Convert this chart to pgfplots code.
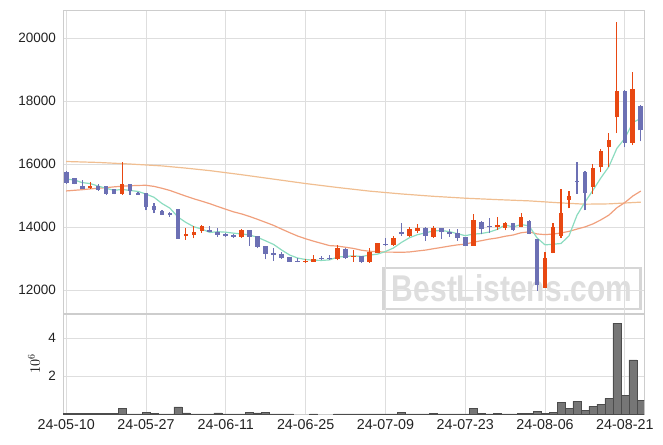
\documentclass[border=0pt]{standalone}
\usepackage{fontspec}
\setmainfont{Liberation Sans}
\usepackage{pgfplots}
\pgfplotsset{compat=1.18}
\usepackage{pgfplotstable}

\definecolor{cup}{RGB}{232,72,18}
\definecolor{cdn}{RGB}{108,112,180}
\definecolor{mafive}{RGB}{140,220,192}
\definecolor{matwenty}{RGB}{240,160,125}
\definecolor{malong}{RGB}{240,190,145}
\definecolor{gridc}{RGB}{222,222,222}
\definecolor{axc}{RGB}{205,205,205}
\definecolor{volc}{RGB}{118,118,118}
\definecolor{wmt}{RGB}{222,222,222}
\definecolor{wmb}{RGB}{214,214,214}
\definecolor{tk}{RGB}{34,34,34}

\pgfplotstableread{
i o h l c
3 15250 15450 15210 15320
7 15070 16090 15040 15380
15 13720 13970 13600 13785
16 13750 14030 13650 13860
17 13880 14070 13830 14040
22 13700 13940 13660 13910
30 12900 13010 12880 12935
31 12915 13130 12900 13010
34 13000 13440 12950 13340
36 13060 13285 12900 13105
38 12900 13330 12870 13210
39 13180 13510 13170 13500
41 13435 13720 13400 13660
43 13720 14000 13700 13950
44 13880 14100 13820 13990
46 13700 14040 13660 13980
51 13415 14410 13400 14220
54 14010 14330 13920 14070
55 13985 14170 13900 14125
57 14010 14450 14000 14330
60 12075 13220 12070 13020
61 13190 14150 13170 14010
62 13730 15210 13660 14450
63 14870 15150 14600 15000
66 15290 16005 15050 15890
67 15900 16500 15750 16430
68 16540 16990 15930 16780
69 17490 20510 16990 18340
71 16690 18930 16610 18400
}\upt

\pgfplotstableread{
i o h l c
0 15760 15790 15390 15420
1 15560 15570 15360 15390
2 15310 15500 15220 15230
4 15300 15390 15155 15190
5 15300 15310 15020 15070
6 15210 15220 15050 15060
8 15370 15380 15020 15150
9 15100 15110 15030 15040
10 15090 15100 14540 14650
11 14680 14780 14440 14550
12 14520 14560 14390 14400
13 14440 14480 14330 14400
14 14580 14590 13630 13640
18 13910 14030 13850 13860
19 13860 13990 13700 13760
20 13790 13830 13690 13710
21 13760 13790 13660 13700
23 13900 13910 13400 13700
24 13720 13730 13330 13380
25 13400 13410 12980 13160
26 13180 13340 12940 13125
27 13160 13230 13000 13030
28 13050 13060 12900 12910
29 12935 13030 12890 12900
32 13035 13100 12960 13000
33 13035 13120 12960 13000
35 13300 13350 13010 13030
37 13080 13090 12880 12900
40 13475 13660 13420 13440
42 13850 14125 13740 13785
45 13980 14000 13580 13730
47 13980 13990 13635 13850
48 13850 13940 13690 13775
49 13820 13940 13580 13660
50 13680 13690 13400 13415
52 14170 14200 13780 13945
53 14050 14300 13820 14010
56 14125 14140 13890 13910
58 14210 14240 13780 13795
59 13615 13630 11990 12160
64 15485 16080 15070 15435
65 15770 15790 14540 15100
70 18340 18360 16540 16690
72 17860 17870 16730 17080
}\dnt

\pgfplotstableread{
i v
0 0.03
1 0.03
2 0.03
3 0.03
4 0.03
5 0.03
6 0.03
7 0.32
8 0.02
9 0.02
10 0.12
11 0.05
12 0.02
13 0.02
14 0.39
15 0.07
16 0.02
17 0.02
18 0.02
19 0.07
20 0.02
21 0.02
22 0.02
23 0.12
24 0.07
25 0.12
26 0.02
27 0.02
28 0.02
31 0.02
34 0.02
35 0.02
36 0.02
37 0.02
38 0.02
39 0.02
40 0.02
41 0.02
42 0.12
43 0.02
44 0.02
45 0.02
46 0.05
47 0.02
48 0.02
49 0.02
50 0.02
51 0.32
52 0.05
53 0.02
54 0.05
55 0.02
56 0.02
57 0.05
58 0.05
59 0.16
60 0.05
61 0.12
62 0.63
63 0.32
64 0.68
65 0.21
66 0.42
67 0.53
68 0.84
69 4.79
70 1.00
71 2.86
72 0.75
}\volt

\pgfplotsset{
  candle/.style 2 args={only marks, mark=*, mark size=0pt,
    mark options={draw opacity=0, fill opacity=0},
    error bars/.cd, y dir=plus, y explicit, error mark=none,
    error bar style={draw=#1, line width=#2}},
}

\begin{document}
\begin{tikzpicture}
\useasboundingbox (0pt,0pt) rectangle (663pt,-444pt);
\node[draw=wmb, line width=2.6pt, inner sep=0pt,
      minimum width=257pt, minimum height=41pt] at (512pt,-288.5pt)
      {\textcolor{wmt}{\resizebox{240pt}{27pt}{\bfseries BestListens.com}}};

\begin{axis}[
  at={(63pt,-313pt)}, anchor=south west, scale only axis,
  width=581pt, height=303pt,
  xmin=-0.4, xmax=72.4, ymin=11280, ymax=20900,
  xtick={0,10,...,70}, xticklabels={},
  ytick={12000,14000,16000,18000,20000},
  yticklabels={12000,14000,16000,18000,20000},
  scaled y ticks=false, scaled x ticks=false,
  grid=major, major grid style={gridc, line width=0.8pt},
  axis line style={axc, line width=0.8pt},
  major tick length=0pt, tick style={draw=none},
  yticklabel style={font=\fontsize{13.5}{16}\selectfont, text=tk, anchor=east, xshift=-3.5pt},
]
\addplot[malong, line width=1.2pt] coordinates {
(0,16090)(4,16060)(8,16010)(12,15950)(15,15880)(18,15800)(22,15670)(26,15530)(30,15390)(34,15265)(38,15150)(42,15060)(46,14985)(50,14925)(54,14880)(58,14840)(62,14775)(65,14735)(68,14745)(72,14800)};
\addplot[matwenty, line width=1.2pt] coordinates {
(0,15155)(1,15175)(2,15195)(3,15220)(4,15240)(5,15260)(6,15285)(7,15305)(8,15320)(9,15330)(10,15335)(11,15300)(12,15240)(13,15170)(14,15080)(15,14990)(16,14905)(17,14830)(18,14750)(19,14660)(20,14574)(21,14490)(22,14424)(23,14343)(24,14252)(25,14157)(26,14060)(27,13943)(28,13831)(29,13724)(30,13637)(31,13560)(32,13490)(33,13420)(34,13405)(35,13368)(36,13330)(37,13273)(38,13240)(39,13227)(40,13214)(41,13212)(42,13206)(43,13218)(44,13249)(45,13277)(46,13320)(47,13361)(48,13404)(49,13442)(50,13467)(51,13527)(52,13575)(53,13625)(54,13662)(55,13716)(56,13757)(57,13828)(58,13857)(59,13790)(60,13769)(61,13787)(62,13820)(63,13872)(64,13945)(65,14013)(66,14109)(67,14238)(68,14388)(69,14622)(70,14786)(71,14995)(72,15151)};
\addplot[mafive, line width=1.2pt] coordinates {
(0,15530)(1,15505)(2,15420)(3,15390)(4,15310)(5,15240)(6,15174)(7,15204)(8,15170)(9,15140)(10,15056)(11,14954)(12,14758)(13,14608)(14,14328)(15,14155)(16,14017)(17,13945)(18,13837)(19,13861)(20,13846)(21,13814)(22,13788)(23,13756)(24,13680)(25,13570)(26,13455)(27,13279)(28,13121)(29,13025)(30,12978)(31,12955)(32,12949)(33,12967)(34,13055)(35,13076)(36,13095)(37,13075)(38,13117)(39,13149)(40,13232)(41,13343)(42,13520)(43,13668)(44,13766)(45,13823)(46,13887)(47,13900)(48,13865)(49,13799)(50,13736)(51,13784)(52,13803)(53,13850)(54,13932)(55,14074)(56,14012)(57,14089)(58,14046)(59,13664)(60,13443)(61,13463)(62,13487)(63,13728)(64,14383)(65,14799)(66,15175)(67,15571)(68,15927)(69,16508)(70,16826)(71,17328)(72,17458)};

% wicks
\addplot[candle={cdn}{1.1pt}]
  table[x=i, y=l, y error expr={\thisrow{h}-\thisrow{l}}] {\dnt};
\addplot[candle={cup}{1.1pt}]
  table[x=i, y=l, y error expr={\thisrow{h}-\thisrow{l}}] {\upt};
% bodies
\addplot[candle={cdn}{4.7pt}]
  table[x=i, y expr={min(\thisrow{o},\thisrow{c})}, y error expr={max(abs(\thisrow{c}-\thisrow{o}),35)}] {\dnt};
\addplot[candle={cup}{4.7pt}]
  table[x=i, y expr={min(\thisrow{o},\thisrow{c})}, y error expr={max(abs(\thisrow{c}-\thisrow{o}),35)}] {\upt};
\end{axis}

\begin{axis}[
  at={(63pt,-414.3pt)}, anchor=south west, scale only axis,
  width=581pt, height=100.3pt,
  xmin=-0.4, xmax=72.4, ymin=0, ymax=5.27,
  xtick={0,10,...,70},
  xticklabels={24-05-10,24-05-27,24-06-11,24-06-25,24-07-09,24-07-23,24-08-06,24-08-21},
  ytick={2,4}, yticklabels={2,4},
  scaled y ticks=false, scaled x ticks=false,
  grid=major, major grid style={gridc, line width=0.8pt},
  axis line style={axc, line width=0.8pt},
  major tick length=0pt, tick style={draw=none},
  yticklabel style={font=\fontsize{13.5}{16}\selectfont, text=tk, anchor=east, xshift=-3.5pt},
  xticklabel style={font=\fontsize{14.3}{16}\selectfont, text=tk, yshift=-1.5pt},
  every axis y label/.style={at={(axis description cs:-0.0499,0.5)}, anchor=center, rotate=90},
  ylabel={\fontsize{14}{16}\selectfont $10^6$},
]
\addplot[ybar, bar width=1, fill=volc, draw=black!70, line width=0.6pt] table[x=i, y=v] {\volt};
\end{axis}
\end{tikzpicture}
\end{document}
